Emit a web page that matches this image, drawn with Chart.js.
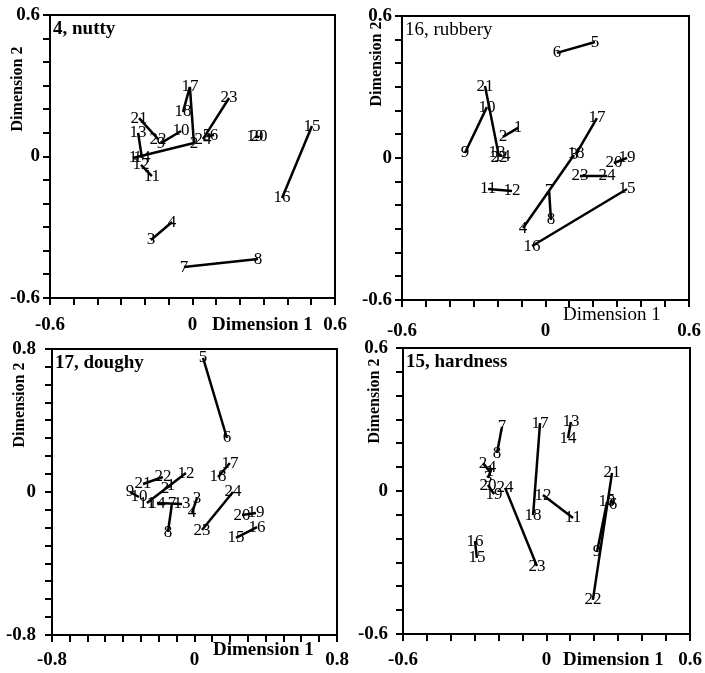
<!DOCTYPE html>
<html>
<head>
<meta charset="utf-8">
<script src="https://cdn.jsdelivr.net/npm/chart.js@4.4.1/dist/chart.umd.min.js"></script>
<style>
  body { margin: 0; background: #fff; }
  .panel { position: absolute; }
</style>
</head>
<body>
<div class="panel" style="left:0;top:0"><canvas id="nuttyChart" width="350" height="345"></canvas></div>
<div class="panel" style="left:350px;top:0"><canvas id="rubberyChart" width="355" height="345"></canvas></div>
<div class="panel" style="left:0;top:330px"><canvas id="doughyChart" width="350" height="343"></canvas></div>
<div class="panel" style="left:350px;top:330px"><canvas id="hardnessChart" width="355" height="343"></canvas></div>
<script>
// product numbers shown at each point
const products = ['1','2','3','4','5','6','7','8','9','10','11','12',
                  '13','14','15','16','17','18','19','20','21','22','23','24'];

// 4, nutty
const nuttyX = [-0.251, 0.006, -0.175, -0.086, 0.061, 0.091, -0.036, 0.276, -0.133, -0.048, -0.171, -0.217,
                -0.229, -0.213, 0.503, 0.377, -0.011, -0.040, 0.263, 0.280, -0.225, -0.145, 0.154, 0.044];
const nuttyY = [-0.006, 0.057, -0.354, -0.278, 0.087, 0.091, -0.469, -0.435, 0.057, 0.108, -0.083, -0.036,
                0.100, -0.006, 0.129, -0.176, 0.295, 0.189, 0.083, 0.083, 0.163, 0.074, 0.248, 0.074];

// 16, rubbery
const rubberyX = [-0.115, -0.178, 0.119, -0.094, 0.207, 0.048, 0.015, 0.023, -0.337, -0.245, -0.240, -0.140,
                  -0.203, -0.182, 0.341, -0.056, 0.215, 0.128, 0.341, 0.286, -0.253, -0.194, 0.144, 0.257];
const rubberyY = [0.127, 0.089, 0.013, -0.296, 0.490, 0.444, -0.139, -0.262, 0.021, 0.215, -0.131, -0.139,
                  0.021, 0.008, -0.131, -0.372, 0.169, 0.017, 0.000, -0.021, 0.304, 0.004, -0.076, -0.076];

// 17, doughy
const doughyX = [-0.132, -0.166, 0.014, -0.014, 0.048, 0.182, -0.126, -0.149, -0.362, -0.312, -0.267, -0.048,
                 -0.070, -0.211, 0.233, 0.351, 0.199, 0.132, 0.345, 0.267, -0.289, -0.177, 0.042, 0.216];
const doughyY = [0.034, 0.022, -0.034, -0.117, 0.750, 0.302, -0.062, -0.224, 0.000, -0.028, -0.062, 0.106,
                 -0.067, -0.062, -0.257, -0.196, 0.162, 0.084, -0.117, -0.129, 0.045, 0.084, -0.213, 0.000];

// 15, hardness
const hardnessX = [-0.236, -0.265, -0.245, -0.228, 0.270, 0.278, -0.186, -0.207, 0.211, 0.253, 0.111, -0.015,
                   0.102, 0.090, -0.291, -0.299, -0.027, -0.056, -0.219, -0.245, 0.274, 0.194, -0.040, -0.173];
const hardnessY = [0.080, 0.117, 0.055, 0.097, -0.038, -0.055, 0.269, 0.159, -0.256, -0.046, -0.113, -0.017,
                   0.290, 0.222, -0.281, -0.210, 0.285, -0.101, -0.013, 0.025, 0.076, -0.457, -0.315, 0.013];

// replicate pairs joined by a line
const pairs = [[1,2],[3,4],[5,6],[7,8],[9,10],[11,12],[13,14],[15,16],[17,18],[19,20],[21,22],[23,24]];
const nuttyLinks = pairs.concat([[17,2]]);

const ticks6 = ['-0.6', '0', '0.6'];
const ticks8 = ['-0.8', '0', '0.8'];

const SERIF = '"Liberation Serif", "Times New Roman", serif';

function tickText(value, labels) {
    const v = Math.round(value * 10) / 10;
    const hit = labels.find(t => parseFloat(t) === v);
    return hit === undefined ? '' : hit;
}

const pointLabels = {
    id: 'pointLabels',
    afterDatasetsDraw(chart, args, opts) {
        const ctx = chart.ctx;
        const xs = chart.scales.x, ys = chart.scales.y;
        ctx.save();
        ctx.fillStyle = '#000';
        ctx.font = '17px ' + SERIF;
        ctx.textAlign = 'center';
        ctx.textBaseline = 'middle';
        opts.px.forEach((x, i) => {
            ctx.fillText(products[i], xs.getPixelForValue(x), ys.getPixelForValue(opts.py[i]));
        });
        ctx.restore();
    }
};

const frameAndText = {
    id: 'frameAndText',
    afterDraw(chart, args, o) {
        const ctx = chart.ctx, a = chart.chartArea;
        ctx.save();
        ctx.strokeStyle = '#000';
        ctx.lineWidth = 2;
        ctx.strokeRect(a.left, a.top, a.right - a.left, a.bottom - a.top);
        ctx.fillStyle = '#000';
        ctx.textBaseline = 'middle';
        ctx.textAlign = 'left';
        ctx.font = o.weight + ' 19px ' + SERIF;
        ctx.fillText(o.title, a.left + 3, a.top + 14);
        ctx.fillText('Dimension 1', o.xTitle[0], o.xTitle[1]);
        ctx.translate(o.yTitle[0], o.yTitle[1]);
        ctx.rotate(-Math.PI / 2);
        ctx.textAlign = 'center';
        ctx.font = 'bold 16px ' + SERIF;
        ctx.fillText('Dimension 2', 0, 0);
        ctx.restore();
    }
};

function makePanel(id, title, xs, ys, links, range, tickLabels, L) {
    const canvas = document.getElementById(id);
    const segments = links.map(([a, b]) => ({
        data: [{x: xs[a - 1], y: ys[a - 1]}, {x: xs[b - 1], y: ys[b - 1]}],
        showLine: true,
        borderColor: '#000',
        borderWidth: 2.5,
        pointRadius: 0
    }));
    const points = {
        data: xs.map((x, i) => ({x: x, y: ys[i]})),
        pointRadius: 0,
        showLine: false
    };
    const tickFont = {family: SERIF, size: 19, weight: 'bold'};
    const axisGrid = {drawOnChartArea: false, drawTicks: true, tickLength: 7, color: '#000', lineWidth: 2};
    return new Chart(canvas, {
        type: 'scatter',
        data: {datasets: segments.concat([points])},
        options: {
            responsive: false,
            animation: false,
            layout: {padding: {top: L.top, right: L.right, left: 0, bottom: 0}},
            plugins: {
                legend: {display: false},
                tooltip: {enabled: false},
                pointLabels: {px: xs, py: ys},
                frameAndText: {title: title, weight: L.weight, xTitle: L.xTitle, yTitle: L.yTitle}
            },
            scales: {
                x: {
                    type: 'linear', min: -range, max: range,
                    border: {color: '#000', width: 2},
                    grid: axisGrid,
                    afterFit: s => { s.height = L.xAxisH; s.paddingLeft = 0; s.paddingRight = 0; },
                    ticks: {
                        stepSize: 0.1, autoSkip: false, maxRotation: 0, color: '#000',
                        font: tickFont, padding: L.xPad,
                        callback: v => tickText(v, tickLabels)
                    }
                },
                y: {
                    type: 'linear', min: -range, max: range,
                    border: {color: '#000', width: 2},
                    grid: axisGrid,
                    afterFit: s => { s.width = L.yAxisW; s.paddingTop = 0; s.paddingBottom = 0; },
                    ticks: {
                        stepSize: 0.1, autoSkip: false, color: '#000',
                        font: tickFont, padding: L.yPad,
                        callback: v => tickText(v, tickLabels)
                    }
                }
            }
        },
        plugins: [pointLabels, frameAndText]
    });
}

makePanel('nuttyChart', '4, nutty', nuttyX, nuttyY, nuttyLinks, 0.6, ticks6,
    {top: 15, right: 15, yAxisW: 50, xAxisH: 47, xPad: 9, yPad: 3, weight: 'bold', xTitle: [212, 325], yTitle: [18, 89]});
makePanel('rubberyChart', '16, rubbery', rubberyX, rubberyY, pairs, 0.6, ticks6,
    {top: 16, right: 16, yAxisW: 52, xAxisH: 45, xPad: 13, yPad: 3, weight: 'normal', xTitle: [213, 315], yTitle: [27, 64]});
makePanel('doughyChart', '17, doughy', doughyX, doughyY, pairs, 0.8, ticks8,
    {top: 19, right: 13, yAxisW: 52, xAxisH: 38, xPad: 7, yPad: 9, weight: 'bold', xTitle: [213, 320], yTitle: [20, 75]});
makePanel('hardnessChart', '15, hardness', hardnessX, hardnessY, pairs, 0.6, ticks6,
    {top: 18, right: 15, yAxisW: 53, xAxisH: 39, xPad: 8, yPad: 8, weight: 'bold', xTitle: [213, 330], yTitle: [25, 71]});
</script>
</body>
</html>
